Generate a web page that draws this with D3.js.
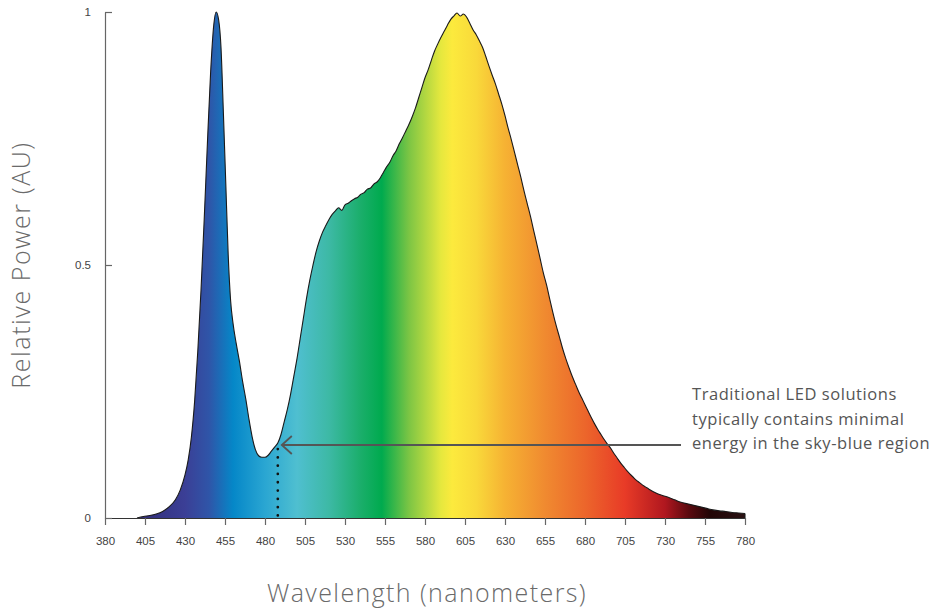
<!DOCTYPE html>
<html>
<head>
<meta charset="utf-8">
<script src="https://cdn.jsdelivr.net/npm/d3@7"></script>
<style>
  html, body { margin: 0; padding: 0; background: #fff; }
  svg { display: block; }
</style>
</head>
<body>
<svg id="chart" width="942" height="612"></svg>
<script>
// ---- data ----
const wavelengths = [400,404,408,412,416,420,424,427,430,432,434,436,438,440,442,444,446,448,449.5,451,452.5,454,455.5,457,458.5,460,462,464,466,468,470,472,474,476,478,480,482,484,486,488,490,492,494,496,498,500,502,504,506,508,510,512,514,516,518,520,522,524,526,528,530,532,534,536,538,540,542,544,546,548,550,552,554,556,558,560,562,564,566,568,570,572,574,576,578,580,582,584,586,588,590,592,594,596,598,600,602,604,606,608,610,612,614,616,618,620,622,624,626,628,630,632,634,636,638,640,642,644,646,648,650,652,654,656,658,660,662,664,666,668,670,672,674,676,678,680,682,684,686,688,690,692,694,696,698,700,702,704,706,708,710,712,714,716,718,720,724,728,732,736,740,744,748,752,756,760,764,768,772,776,780];
const power = [0.000,0.003,0.005,0.008,0.013,0.022,0.036,0.055,0.085,0.115,0.16,0.23,0.33,0.45,0.59,0.74,0.88,0.975,1.0,0.985,0.93,0.80,0.66,0.52,0.43,0.385,0.345,0.31,0.27,0.235,0.195,0.16,0.135,0.123,0.12,0.12,0.124,0.132,0.14,0.148,0.165,0.19,0.215,0.245,0.28,0.315,0.355,0.395,0.435,0.47,0.50,0.527,0.548,0.565,0.578,0.590,0.600,0.607,0.613,0.608,0.619,0.622,0.627,0.631,0.634,0.640,0.643,0.650,0.652,0.660,0.664,0.672,0.683,0.694,0.703,0.716,0.726,0.740,0.752,0.765,0.778,0.793,0.81,0.83,0.85,0.87,0.886,0.905,0.923,0.937,0.95,0.962,0.974,0.985,0.992,0.998,0.992,0.996,0.99,0.978,0.965,0.955,0.943,0.93,0.912,0.893,0.875,0.858,0.838,0.818,0.795,0.77,0.747,0.722,0.697,0.672,0.645,0.62,0.595,0.567,0.54,0.512,0.484,0.46,0.432,0.405,0.38,0.358,0.335,0.315,0.297,0.28,0.265,0.25,0.237,0.224,0.211,0.198,0.186,0.175,0.165,0.155,0.146,0.138,0.128,0.119,0.11,0.102,0.094,0.087,0.081,0.075,0.07,0.065,0.061,0.057,0.05,0.045,0.041,0.036,0.031,0.028,0.025,0.022,0.019,0.016,0.014,0.013,0.011,0.010,0.009];
const xTicks = [380,405,430,455,480,505,530,555,580,605,630,655,680,705,730,755,780];
const yTicks = [0, 0.5, 1];
const spectrumStops = [
  [380, "#2a1f5e"], [405, "#33307c"], [430, "#3b3f96"], [445, "#2f55a8"], [460, "#0587c8"],
  [480, "#2aa6d2"], [500, "#4fbfd0"], [520, "#3db9a5"], [540, "#1aae6a"], [553, "#00aa4e"],
  [570, "#7cc544"], [590, "#e6e83e"], [597, "#fcea3d"], [612, "#f9d93a"], [630, "#f6b233"],
  [655, "#f08a30"], [680, "#ec662b"], [705, "#e83b27"], [730, "#b0171f"], [745, "#5a0a0f"],
  [758, "#220606"], [780, "#2a1214"]
];
const annotationWavelength = 488;
const annotationLines = ["Traditional LED solutions", "typically contains minimal", "energy in the sky-blue region"];

// ---- layout ----
const svg = d3.select("#chart");
const x = d3.scaleLinear().domain([380, 780]).range([105, 745]);
const y = d3.scaleLinear().domain([0, 1]).range([518, 12]);
const data = wavelengths.map((w, i) => ({ w, v: power[i] }));

// gradient
const defs = svg.append("defs");
const grad = defs.append("linearGradient")
  .attr("id", "spec").attr("gradientUnits", "userSpaceOnUse")
  .attr("x1", x(380)).attr("x2", x(780)).attr("y1", 0).attr("y2", 0);
grad.selectAll("stop").data(spectrumStops).join("stop")
  .attr("offset", d => (d[0] - 380) / 400)
  .attr("stop-color", d => d[1]);

const area = d3.area().x(d => x(d.w)).y0(y(0)).y1(d => y(d.v)).curve(d3.curveMonotoneX);
const line = d3.line().x(d => x(d.w)).y(d => y(d.v)).curve(d3.curveMonotoneX);

svg.append("path").datum(data).attr("d", area).attr("fill", "url(#spec)");
svg.append("path").datum(data).attr("d", line)
  .attr("fill", "none").attr("stroke", "#1a1a1a").attr("stroke-width", 1.1);
svg.append("line").attr("x1", x(780)).attr("x2", x(780))
  .attr("y1", y(power[power.length - 1])).attr("y2", y(0))
  .attr("stroke", "#1a1a1a").attr("stroke-width", 1.1);

// axes
const xAxis = svg.append("g").attr("transform", `translate(0,${y(0)})`)
  .call(d3.axisBottom(x).tickValues(xTicks).tickSize(7).tickSizeOuter(0).tickPadding(12).tickFormat(d3.format("d")));
const yAxis = svg.append("g").attr("transform", `translate(${x(380)},0)`)
  .call(d3.axisLeft(y).tickValues(yTicks).tickSize(-7).tickSizeOuter(0).tickPadding(14).tickFormat(d => d === 0.5 ? "0.5" : String(d)));
[xAxis, yAxis].forEach(g => {
  g.selectAll("path, line").attr("stroke", "#666").attr("stroke-width", 1.2);
  g.selectAll("text").attr("fill", "#444").style("font-family", "'Liberation Sans', Arial, sans-serif").style("font-size", "11.5px");
});
xAxis.select(".domain").attr("stroke", "#333");

// titles
const titleFont = "'Open Sans', Lato, sans-serif";
svg.append("text").attr("x", 427).attr("y", 602).attr("text-anchor", "middle")
  .style("font-family", titleFont).style("font-weight", 300).style("font-size", "25px")
  .style("letter-spacing", "1.4px")
  .attr("fill", "#6a6a6a").text("Wavelength (nanometers)");
svg.append("text").attr("transform", "translate(30,265) rotate(-90)").attr("text-anchor", "middle")
  .style("font-family", titleFont).style("font-weight", 300).style("font-size", "25px")
  .style("letter-spacing", "1.6px")
  .attr("fill", "#6a6a6a").text("Relative Power (AU)");

// annotation
const ax = x(annotationWavelength);
const ay = 445;
svg.append("line").attr("x1", ax).attr("x2", ax).attr("y1", ay + 4).attr("y2", y(0))
  .attr("stroke", "#111").attr("stroke-width", 2.7).attr("stroke-dasharray", "0.1 8.2").attr("stroke-linecap", "round");
svg.append("line").attr("x1", ax + 4).attr("x2", 681).attr("y1", ay).attr("y2", ay)
  .attr("stroke", "#555").attr("stroke-width", 1.8);
svg.append("path").attr("d", `M${ax + 14},${ay - 9} L${ax + 4},${ay} L${ax + 14},${ay + 9}`)
  .attr("fill", "none").attr("stroke", "#555").attr("stroke-width", 1.8);
svg.append("g").selectAll("text").data(annotationLines).join("text")
  .attr("x", 692).attr("y", (d, i) => 400 + i * 24.5)
  .style("font-family", titleFont).style("font-size", "16.5px").style("letter-spacing", "0.55px")
  .attr("fill", "#555").text(d => d);
</script>
</body>
</html>
